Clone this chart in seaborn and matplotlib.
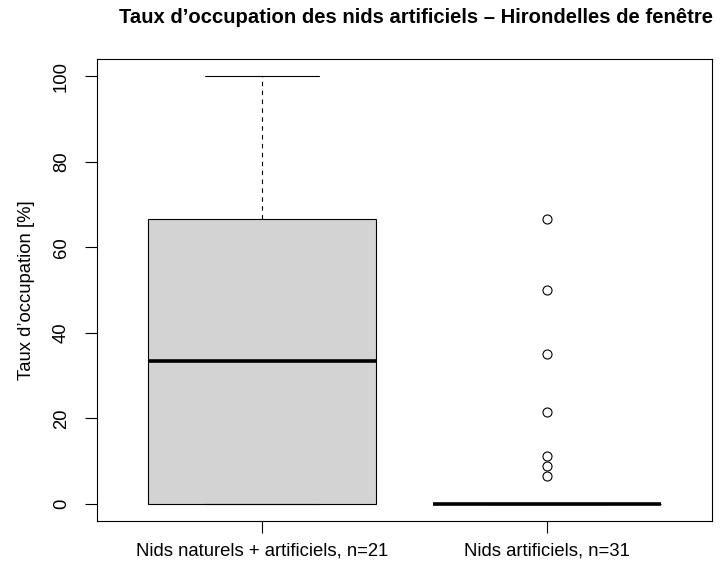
import matplotlib
matplotlib.use("Agg")
import matplotlib.pyplot as plt
import seaborn as sns
import pandas as pd
import numpy as np

# ---- data ----
categories = ["Nids naturels + artificiels, n=21", "Nids artificiels, n=31"]
values_group1 = [0, 0, 0, 0, 0, 0, 0, 20, 25, 33.3, 33.3, 33.3, 50, 50,
                 66.7, 66.7, 66.7, 75, 100, 100, 100]
values_group2 = [0] * 24 + [66.7, 50.0, 35.0, 21.5, 11.1, 8.8, 6.6]
y_ticks = [0, 20, 40, 60, 80, 100]
title = "Taux d\u2019occupation des nids artificiels \u2013 Hirondelles de fen\u00eatre"
y_label = "Taux d\u2019occupation [%]"

df = pd.DataFrame({
    "groupe": [categories[0]] * len(values_group1) + [categories[1]] * len(values_group2),
    "taux": values_group1 + values_group2,
})

sns.set_style("white")
plt.rcParams["font.family"] = ["Liberation Sans", "DejaVu Sans"]
plt.rcParams["text.color"] = "black"
plt.rcParams["xtick.color"] = "black"
plt.rcParams["ytick.color"] = "black"
plt.rcParams["axes.labelcolor"] = "black"

fig = plt.figure(figsize=(7.21, 5.67), dpi=100)
ax = fig.add_axes([97 / 721, 1 - 521 / 567, (712 - 97) / 721, (521 - 59) / 567])

sns.boxplot(
    data=df, x="groupe", y="taux", order=categories, ax=ax,
    color="#D3D3D3", saturation=1, width=0.8, linecolor="black", linewidth=0.8,
    whis=1.5,
    medianprops=dict(linewidth=2.6, color="black", solid_capstyle="butt"),
    whiskerprops=dict(linestyle=(0, (4, 4)), linewidth=0.8),
    capprops=dict(linewidth=0.8),
    flierprops=dict(marker="o", markersize=6.5, markerfacecolor="none",
                    markeredgecolor="black", markeredgewidth=0.8),
)

ax.set_xlim(-0.58, 1.58)
ax.set_ylim(-4, 104)
ax.set_yticks(y_ticks)
ax.set_yticklabels([str(t) for t in y_ticks], rotation=90, va="center", fontsize=13.3)
ax.set_xticks([0, 1])
ax.set_xticklabels(categories, fontsize=13.3)
ax.tick_params(axis="both", direction="out", length=8.6, width=0.8,
               left=True, bottom=True)
ax.tick_params(axis="y", pad=11)
ax.tick_params(axis="x", pad=7)
ax.set_xlabel("")
ax.set_ylabel(y_label, fontsize=13.3, labelpad=13)
for s in ax.spines.values():
    s.set_visible(True)
    s.set_color("black")
    s.set_linewidth(0.8)

fig.text(416 / 721, 1 - 23 / 567, title, ha="center", va="baseline",
         fontsize=14.6, fontweight="bold", color="black")

fig.savefig("out.png", dpi=100)
